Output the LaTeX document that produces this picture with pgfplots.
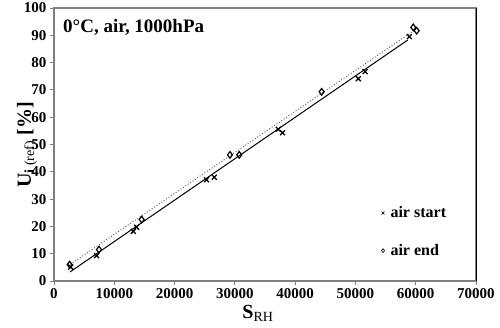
\documentclass[border=0pt]{standalone}
\usepackage{fontspec}
\setmainfont{Liberation Serif}
\usepackage{pgfplots}
\pgfplotsset{compat=1.18}

\definecolor{axgray}{RGB}{128,128,128}

\begin{document}
\begin{tikzpicture}[x=1pt,y=1pt]
\begin{axis}[
    name=ax,
    at={(0,0)}, anchor=south west,
    scale only axis,
    width=422pt, height=273pt,
    xmin=0, xmax=70000,
    ymin=0, ymax=100,
    xtick={0,10000,...,70000},
    ytick={0,10,...,100},
    scaled x ticks=false,
    xticklabel style={/pgf/number format/1000 sep={}},
    /pgf/number format/assume math mode=true,
    ticklabel style={font=\bfseries\fontsize{15}{15}\selectfont},
    tick align=outside, tick pos=left,
    major tick length=4pt,
    every tick/.style={axgray, line width=0.8pt},
    axis line style={axgray, line width=1.4pt},
    clip=false,
    legend style={at={(axis cs:54300,18)}, anchor=west, draw=none, fill=none,
        font=\bfseries\fontsize{16}{16}\selectfont, row sep=21pt,
        legend cell align=left, inner sep=0pt},
    legend image code/.code={\draw[#1] plot coordinates {(0pt,0pt)};},
    legend image post style={mark size=2pt, line width=0.6pt},
]
% air start
\addplot[only marks, mark=x, mark size=3.5pt, line width=1.3pt, black] coordinates {
    (2770,5.1) (7080,9.3) (13150,18.2) (13700,19.7)
    (25300,37.1) (26590,38.0) (37200,55.6) (37900,54.3)
    (50480,74.1) (51600,76.7) (58950,89.5)
};
% air end
\addplot[only marks, mark=diamond, mark size=3.3pt, line width=1.2pt, black] coordinates {
    (2600,6.0) (7460,11.5) (14540,22.5) (29190,46.2) (30730,46.2)
    (44400,69.3) (59600,92.9) (60150,91.7)
};
\legend{\hspace{4pt}air start, \hspace{4pt}air end}
% trend lines
\addplot[black, line width=1pt, forget plot] coordinates {(2650,3.3) (58700,88.3)};
\addplot[black!70, dotted, line width=0.9pt, forget plot] coordinates {(2300,5.5) (59900,92.0)};
\end{axis}
\draw[black, line width=0.9pt] (422,0) -- (422,273);
\node[anchor=west, inner sep=0pt, font=\bfseries\fontsize{19}{19}\selectfont] at (9,254) {0°C, air, 1000hPa};
\node[rotate=90, inner sep=0pt, font=\fontsize{20}{20}\selectfont] at (-27,136)
    {\textbf{U}\textsubscript{\fontsize{14}{14}\selectfont\textbf{i} (ref)} \textbf{[\%]}};
\node[inner sep=0pt, font=\fontsize{20}{20}\selectfont] at (204,-32)
    {\textbf{S}\textsubscript{\fontsize{14}{14}\selectfont RH}};
\pgfresetboundingbox
\path[use as bounding box] (-54,-47) rectangle (446,281);
\end{tikzpicture}
\end{document}
